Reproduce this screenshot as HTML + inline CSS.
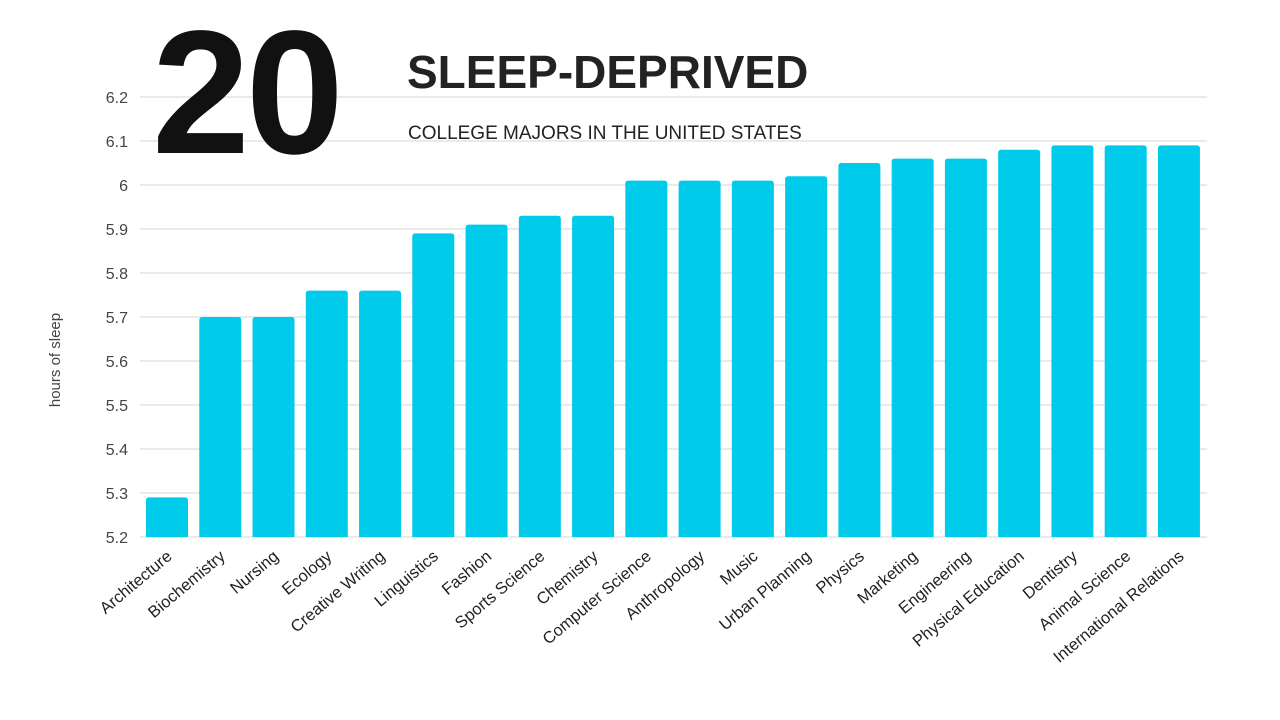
<!DOCTYPE html>
<html><head><meta charset="utf-8"><style>
body{margin:0;width:1280px;height:720px;background:#fff;overflow:hidden;font-family:"Liberation Sans",sans-serif}
svg{position:absolute;left:0;top:0}
</style></head><body>
<svg width="1280" height="720">
<g id="grid"></g><g id="bars"></g><g id="labels"></g>
<text x="60" y="360" transform="rotate(-90 60 360)" text-anchor="middle" font-size="15" fill="#444">hours of sleep</text>
<text x="152" y="153" font-size="176" font-weight="bold" fill="#111" letter-spacing="-4">20</text>
<text x="407" y="88" font-size="46" font-weight="bold" fill="#222">SLEEP-DEPRIVED</text>
<text x="408" y="139" font-size="19" fill="#222">COLLEGE MAJORS IN THE UNITED STATES</text>
</svg>
<script>
const categories=["Architecture","Biochemistry","Nursing","Ecology","Creative Writing","Linguistics","Fashion","Sports Science","Chemistry","Computer Science","Anthropology","Music","Urban Planning","Physics","Marketing","Engineering","Physical Education","Dentistry","Animal Science","International Relations"];
const values=[5.29,5.70,5.70,5.76,5.76,5.89,5.91,5.93,5.93,6.01,6.01,6.01,6.02,6.05,6.06,6.06,6.08,6.09,6.09,6.09];
const ticks=[5.2,5.3,5.4,5.5,5.6,5.7,5.8,5.9,6,6.1,6.2];
const NS="http://www.w3.org/2000/svg";
const y=v=>537-(v-5.2)*440;
const x0=146,pitch=53.26,bw=42;
const xc=i=>x0+i*pitch+bw/2;
const g=document.getElementById('grid'),b=document.getElementById('bars'),l=document.getElementById('labels');
ticks.forEach(t=>{
 const ln=document.createElementNS(NS,'line');
 
 
 ln.setAttribute('x1',140);ln.setAttribute('x2',1207);ln.setAttribute('y1',y(t));ln.setAttribute('y2',y(t));
 ln.setAttribute('stroke','#ddd');ln.setAttribute('stroke-width','1.2');g.appendChild(ln);
 const tx=document.createElementNS(NS,'text');
 
 
 tx.setAttribute('x',128);tx.setAttribute('y',y(t)+6);tx.setAttribute('text-anchor','end');
 tx.setAttribute('font-size','16');tx.setAttribute('fill','#444');tx.textContent=String(t);g.appendChild(tx);
});
values.forEach((v,i)=>{
 const r=document.createElementNS(NS,'path');
 
 
 const xl=xc(i)-bw/2,yt=y(v),yb=537,rr=3;
 r.setAttribute('d',`M${xl} ${yb}V${yt+rr}Q${xl} ${yt} ${xl+rr} ${yt}H${xl+bw-rr}Q${xl+bw} ${yt} ${xl+bw} ${yt+rr}V${yb}Z`);
 r.setAttribute('fill','#00cbeb');b.appendChild(r);
 const tx=document.createElementNS(NS,'text');
 
 
 const lx=xc(i)+6,ly=558;
 tx.setAttribute('x',lx);tx.setAttribute('y',ly);tx.setAttribute('text-anchor','end');
 tx.setAttribute('transform',`rotate(-40 ${lx} ${ly})`);
 tx.setAttribute('font-size','16.5');tx.setAttribute('fill','#222');tx.textContent=categories[i];l.appendChild(tx);
});
</script>
</body></html>
